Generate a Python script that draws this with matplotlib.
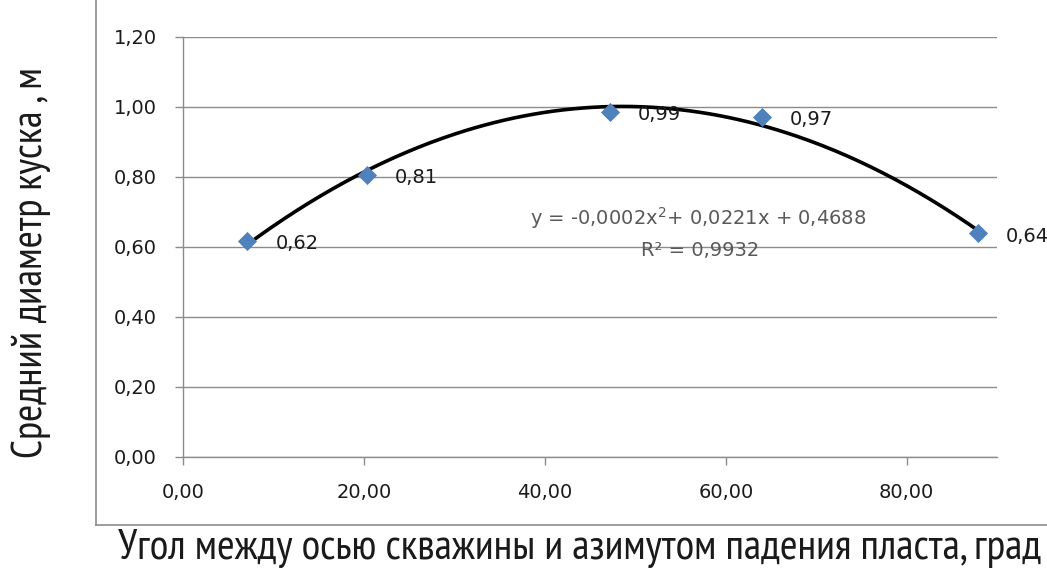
import numpy as np
import matplotlib
matplotlib.use("Agg")
import matplotlib.pyplot as plt
from matplotlib.lines import Line2D
from matplotlib import font_manager
from matplotlib.font_manager import FontProperties
from matplotlib.ft2font import FT2Font

# ---- data ----
x_vals = [7.1, 20.3, 47.2, 64.0, 87.9]
y_vals = [0.616, 0.806, 0.986, 0.971, 0.638]
x_ticks = [0, 20, 40, 60, 80]
y_ticks = [0.0, 0.2, 0.4, 0.6, 0.8, 1.0, 1.2]
x_label = "Угол между осью скважины и азимутом падения пласта, град"
y_label = "Средний диаметр куска , м"
eq_text = "y = -0,0002x$^2$+ 0,0221x + 0,4688"
r2_text = "R² = 0,9932"

def fmt(v):
    return f"{v:.2f}".replace(".", ",")

needed = set(x_label + y_label) - {" "}

def covers(fname):
    try:
        cmap = FT2Font(fname).get_charmap()
    except Exception:
        return False
    return all(ord(c) in cmap for c in needed)

# pick a narrow / condensed sans font with Cyrillic, if one is installed
def pick_narrow():
    best = None
    for f in font_manager.fontManager.ttflist:
        n = f.name.lower()
        fn = f.fname.lower()
        if f.style != "normal":
            continue
        if any(k in fn for k in ("bold", "light", "thin", "medium", "black", "semibold",
                                 "italic", "oblique", "mono", "extra", "ultra")):
            continue
        score = None
        if "narrow" in n or "narrow" in fn:
            score = 0
        elif "condensed" in n or "condensed" in fn or str(f.stretch) in ("condensed", "semi-condensed"):
            score = 1
        if score is None:
            continue
        if "serif" in n.replace("sans", "") and "sans" not in n:
            continue
        if not covers(f.fname):
            continue
        if best is None or score < best[0]:
            best = (score, f.fname)
    if best:
        return FontProperties(fname=best[1])
    return FontProperties(family="DejaVu Sans")

plt.rcParams['font.family'] = ['DejaVu Sans']

W, H = 1047, 572
fig = plt.figure(figsize=(W / 100, H / 100), dpi=100)
ax = fig.add_axes([183.3 / W, 1 - 456.7 / H, (997 - 183.3) / W, (456.7 - 36.7) / H])

grid_c = "#8c8c8c"
txt_c = "#1a1a1a"
ax.set_xlim(0, 90)
ax.set_ylim(0, 1.2)
ax.set_xticks(x_ticks)
ax.set_xticklabels([fmt(v) for v in x_ticks])
ax.set_yticks(y_ticks)
ax.set_yticklabels([fmt(v) for v in y_ticks])
ax.yaxis.grid(True, color=grid_c, linewidth=1.0)
ax.set_axisbelow(True)
for s in ["top", "right"]:
    ax.spines[s].set_visible(False)
for s in ["left", "bottom"]:
    ax.spines[s].set_color(grid_c)
    ax.spines[s].set_linewidth(1.0)
ax.tick_params(axis="both", direction="out", length=6, width=1.0, color=grid_c,
               labelsize=14, labelcolor=txt_c)
ax.tick_params(axis="y", pad=13)
ax.tick_params(axis="x", pad=13)

# trend line (quadratic fit)
coef = np.polyfit(x_vals, y_vals, 2)
xs = np.linspace(min(x_vals), max(x_vals), 300)
ax.plot(xs, np.polyval(coef, xs), color="black", linewidth=2.6, zorder=3)

# markers
ax.scatter(x_vals, y_vals, marker="D", s=95, color="#4f81bd", zorder=4, linewidths=0)

# data labels
for xv, yv in zip(x_vals, y_vals):
    ax.annotate(fmt(yv), (xv, yv), xytext=(20, -2), textcoords="offset points",
                ha="left", va="center", fontsize=14, color=txt_c, zorder=5)

# equation
fig.text(698.5 / W, 1 - 218 / H, eq_text, ha="center", va="center", fontsize=14, color="#595959")
fig.text(700 / W, 1 - 250 / H, r2_text, ha="center", va="center", fontsize=14, color="#595959")

# axis titles, sized to the reference widths
fp = pick_narrow()
ty = fig.text(31 / W, 1 - 262 / H, y_label, rotation=90, ha="center", va="center",
              fontproperties=fp.copy(), color=txt_c)
tx = fig.text(580 / W, 1 - 549 / H, x_label, ha="center", va="center",
              fontproperties=fp.copy(), color=txt_c)
fig.canvas.draw()
r = fig.canvas.get_renderer()
for t, target, horiz in [(ty, 390.0, False), (tx, 918.0, True)]:
    t.set_fontsize(20)
    bb = t.get_window_extent(r)
    cur = bb.width if horiz else bb.height
    t.set_fontsize(20 * target / cur)

# chart area frame (left and bottom visible)
fig.add_artist(Line2D([96 / W, 96 / W], [1 - 525 / H, 1.0], transform=fig.transFigure,
                      color=grid_c, linewidth=1.2))
fig.add_artist(Line2D([96 / W, 1.0], [1 - 525 / H, 1 - 525 / H], transform=fig.transFigure,
                      color=grid_c, linewidth=1.2))

fig.savefig("out.png", dpi=100)
